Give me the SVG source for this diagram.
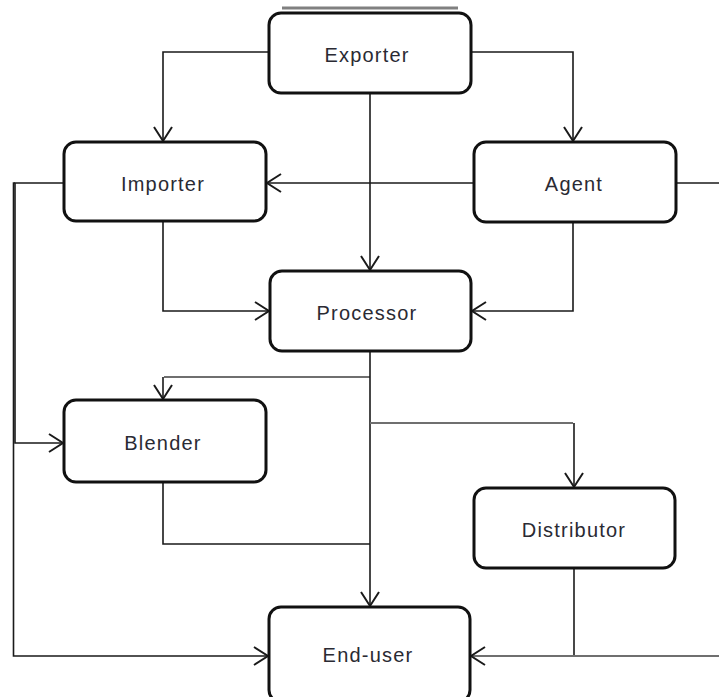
<svg xmlns="http://www.w3.org/2000/svg" width="719" height="697" viewBox="0 0 719 697">
<style>
.box{fill:#fff;stroke:#111;stroke-width:3}
.lbl{font-family:"Liberation Sans",Arial,sans-serif;font-size:20px;letter-spacing:1.2px;fill:#2a2a33;text-anchor:middle}
.ln{fill:none;stroke:#1a1a1a;stroke-width:1.6}
.lg{fill:none;stroke:#6f6f6f;stroke-width:2.2}
</style>
<defs>
<marker id="ah" markerUnits="userSpaceOnUse" markerWidth="20" markerHeight="22" refX="16" refY="11" orient="auto">
<path d="M2,2 L16,11 L2,20" fill="none" stroke="#1a1a1a" stroke-width="2"/>
</marker>
</defs>
<g id="connectors">
<path class="ln" d="M269,52 H163 V141" marker-end="url(#ah)"/>
<path class="ln" d="M471,52 H573 V141" marker-end="url(#ah)"/>
<path class="ln" d="M370,93 V270" marker-end="url(#ah)"/>
<path class="ln" d="M474,183 H267" marker-end="url(#ah)"/>
<path class="ln" d="M676,183 H722"/>
<path class="ln" d="M64,183 H15 V443 H63" marker-end="url(#ah)"/>
<path class="ln" d="M15,183 H13.5 V656 H268" marker-end="url(#ah)"/>
<path class="ln" d="M163,221 V311 H269" marker-end="url(#ah)"/>
<path class="ln" d="M573,222 V311 H472" marker-end="url(#ah)"/>
<path class="lg" d="M370,377 H164"/>
<path class="ln" d="M370,351 V606" marker-end="url(#ah)"/>
<path class="ln" d="M163,377 V399" marker-end="url(#ah)"/>
<path class="lg" d="M370,423 H573"/>
<path class="ln" d="M574,423 V487" marker-end="url(#ah)"/>
<path class="ln" d="M163,482 V544 H370"/>
<path class="ln" d="M574,568 V656"/>
<path class="lg" d="M722,656 H471" marker-end="url(#ah)"/>
</g>
<g id="exporter">
<line x1="282" y1="8" x2="458" y2="8" stroke="#808080" stroke-width="3"/>
<rect class="box" x="269" y="13" width="202" height="80" rx="12"/>
<text class="lbl" x="367" y="62">Exporter</text>
</g>
<g id="importer">
<rect class="box" x="64" y="142" width="202" height="79" rx="12"/>
<text class="lbl" x="163" y="191">Importer</text>
</g>
<g id="agent">
<rect class="box" x="474" y="142" width="202" height="80" rx="12"/>
<text class="lbl" x="574" y="191">Agent</text>
</g>
<g id="processor">
<rect class="box" x="270" y="271" width="201" height="80" rx="12"/>
<text class="lbl" x="367" y="320">Processor</text>
</g>
<g id="blender">
<rect class="box" x="64" y="400" width="202" height="82" rx="12"/>
<text class="lbl" x="163" y="450">Blender</text>
</g>
<g id="distributor">
<rect class="box" x="474" y="488" width="201" height="80" rx="12"/>
<text class="lbl" x="574" y="537">Distributor</text>
</g>
<g id="end-user">
<rect class="box" x="269" y="607" width="201" height="95" rx="12"/>
<text class="lbl" x="368" y="662">End-user</text>
</g>
</svg>
